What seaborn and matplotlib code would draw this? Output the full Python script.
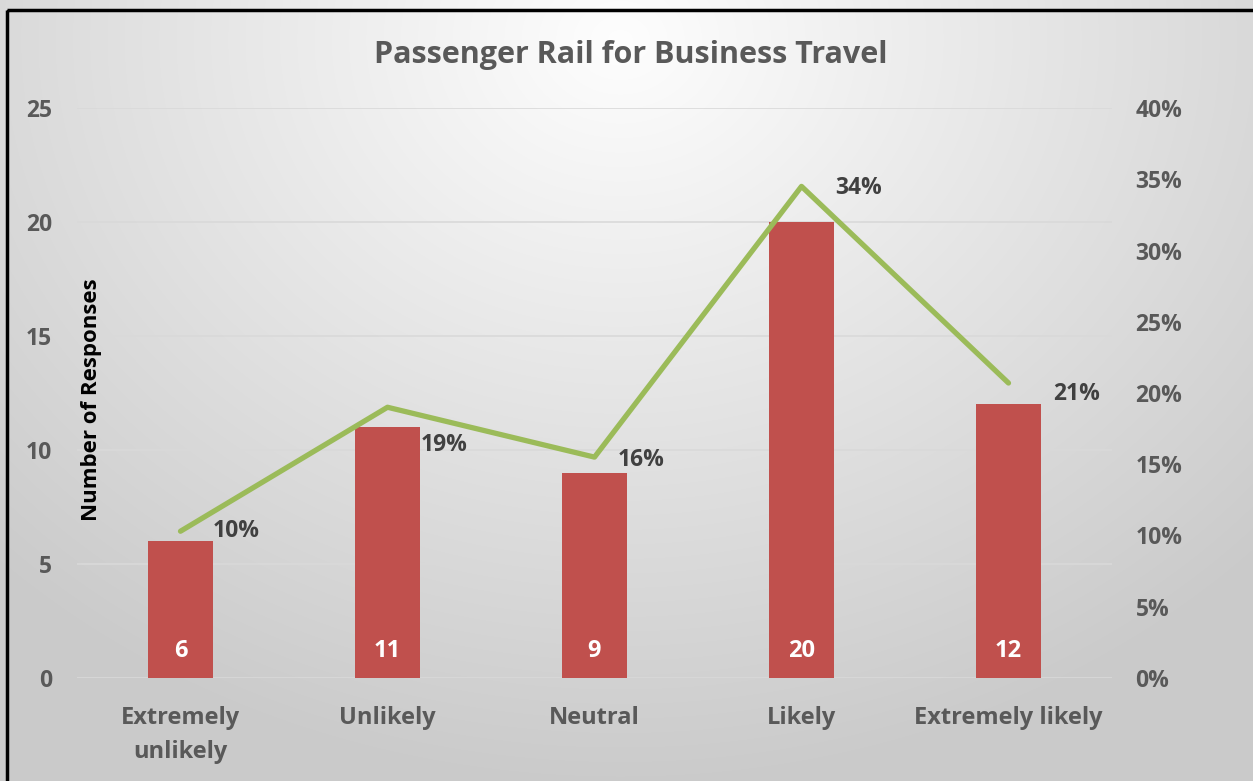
import numpy as np
import pandas as pd
import matplotlib
matplotlib.use("Agg")
import matplotlib.pyplot as plt
import seaborn as sns
from matplotlib.patches import Rectangle
from matplotlib.ticker import FuncFormatter

categories = ["Extremely\nunlikely", "Unlikely", "Neutral", "Likely", "Extremely likely"]
responses = [6, 11, 9, 20, 12]
share_pct = [10.3, 19.0, 15.5, 34.5, 20.7]
share_labels = ["10%", "19%", "16%", "34%", "21%"]
left_ticks = [0, 5, 10, 15, 20, 25]
right_ticks = [0, 5, 10, 15, 20, 25, 30, 35, 40]

sns.set_theme(style="white")
plt.rcParams['font.family'] = ['Open Sans', 'DejaVu Sans']

W, H = 1253, 781
fig = plt.figure(figsize=(W / 100, H / 100), dpi=100)

# gradient background
bg = fig.add_axes([0, 0, 1, 1])
yy, xx = np.mgrid[0:H, 0:W]
d = np.sqrt(((xx - 620) / 880.0) ** 2 + ((yy - 40) / 740.0) ** 2)
d = np.clip(d, 0, 1)
val = 0.995 - 0.20 * d
img = np.dstack([val, val, val])
bg.imshow(img, extent=[0, W, H, 0], aspect="auto")
bg.set_xlim(0, W)
bg.set_ylim(H, 0)
bg.axis("off")
bg.add_patch(Rectangle((7, 10), W + 10, H + 10, fill=False, edgecolor="black", linewidth=2.5))

x0, x1 = 77, 1112
y_top, y_bot = 108, 678
ax = fig.add_axes([x0 / W, 1 - y_bot / H, (x1 - x0) / W, (y_bot - y_top) / H])
ax.patch.set_alpha(0)

df = pd.DataFrame({"cat": categories, "n": responses, "pos": np.arange(len(categories)), "pct": share_pct})
sns.barplot(data=df, x="cat", y="n", color="#C0504D", saturation=1, width=0.315, ax=ax,
            zorder=3, linewidth=0, edgecolor="none")
ax.set_xlim(-0.5, len(categories) - 0.5)
ax.set_ylim(0, 25)
ax.set_yticks(left_ticks)
ax.grid(axis="y", color="#d9d9d9", linewidth=1.2, zorder=0)
ax.set_axisbelow(True)
for s in ax.spines.values():
    s.set_visible(False)
ax.set_xlabel("")
ax.set_ylabel("")
ax.tick_params(axis="y", length=0, pad=18, labelsize=16.5, labelcolor="#595959")
ax.tick_params(axis="x", length=0, pad=20, labelsize=17, labelcolor="#595959")
for t in ax.get_yticklabels() + ax.get_xticklabels():
    t.set_fontweight("bold")
for t in ax.get_xticklabels():
    t.set_linespacing(1.55)

for i, v in enumerate(responses):
    ax.text(i, 1.2, str(v), ha="center", va="center", color="white", fontsize=17, fontweight="bold", zorder=5)

ax2 = ax.twinx()
ax2.patch.set_alpha(0)
sns.lineplot(data=df, x="pos", y="pct", color="#9BBB59", linewidth=3.8, ax=ax2, zorder=4)
ax2.set_ylim(0, 40)
ax2.set_yticks(right_ticks)
ax2.yaxis.set_major_formatter(FuncFormatter(lambda v, p: f"{int(v)}%"))
ax2.tick_params(axis="y", length=0, pad=17, labelsize=16.5, labelcolor="#595959")
for t in ax2.get_yticklabels():
    t.set_fontweight("bold")
    t.set_horizontalalignment("left")
for s in ax2.spines.values():
    s.set_visible(False)
ax2.set_xlabel("")
ax2.set_ylabel("")
ax2.grid(False)
label_offsets = [(23, 0), (24, -27), (17, -2), (24, -1), (32, -8)]
for i, (v, lab) in enumerate(zip(share_pct, share_labels)):
    ax2.annotate(lab, (i, v), xytext=label_offsets[i], textcoords="offset points", ha="left", va="center",
                 color="#404040", fontsize=16.5, fontweight="bold", zorder=6)

fig.text(92 / W, 1 - 400 / H, "Number of Responses", rotation=90, ha="center", va="center",
         fontsize=16, fontweight="bold", color="black")
fig.text(631 / W, 1 - 55 / H, "Passenger Rail for Business Travel", ha="center", va="center",
         fontsize=22, fontweight="bold", color="#595959")

fig.savefig("out.png", dpi=100)
